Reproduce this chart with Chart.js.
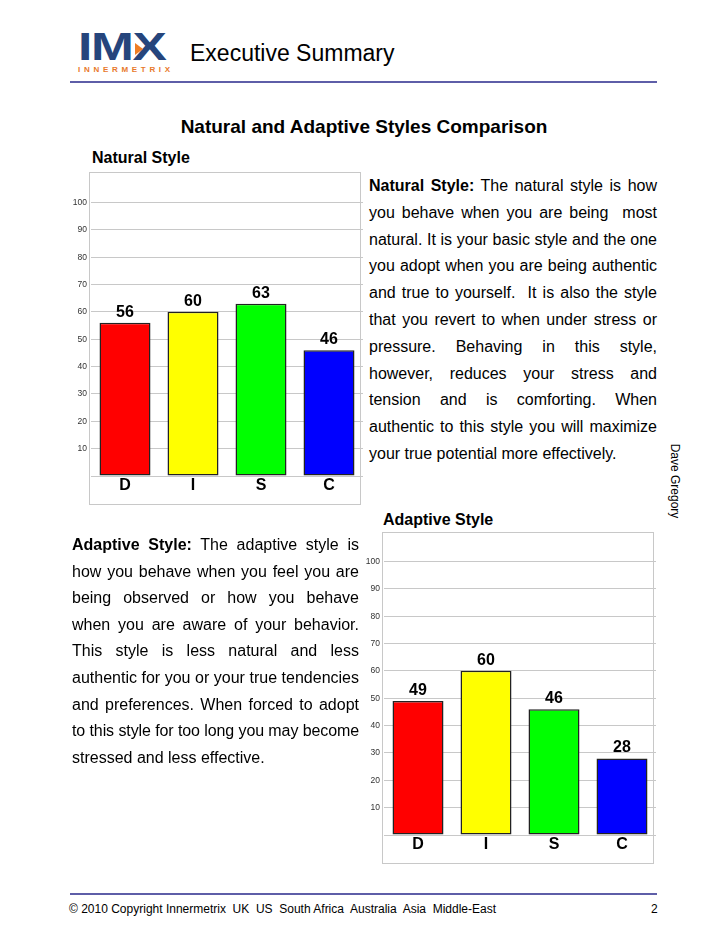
<!DOCTYPE html>
<html>
<head>
<meta charset="utf-8">
<title>Executive Summary</title>
<script src="https://cdn.jsdelivr.net/npm/chart.js@4.4.1/dist/chart.umd.min.js"></script>
<style>
  html, body { margin: 0; padding: 0; background: #fff; }
  body { width: 728px; height: 943px; position: relative; overflow: hidden;
         font-family: "Liberation Sans", Arial, sans-serif; color: #000; }
  .abs { position: absolute; }
  .frame { position: absolute; border: 1px solid #c8c8c8; background: #fff; box-sizing: border-box; }
  .rule { position: absolute; height: 2px; background: #5e5ea8; }
  .heading { position: absolute; font-weight: bold; font-size: 16px; line-height: 16px; white-space: nowrap; }
  .para { position: absolute; font-size: 16px; }
  .ln { white-space: nowrap; text-align: justify; text-align-last: justify; }
  .ln.last { text-align-last: left; }
  canvas { position: absolute; }
</style>
</head>
<body>

<!-- logo + cabecera -->
<div class="abs" style="left:78px;top:27px;font-weight:bold;font-size:39px;line-height:39px;color:#26457c;transform:scaleX(1.32);transform-origin:left top;letter-spacing:-1px;">IMX</div>
<div class="abs" style="left:135px;top:43px;width:0;height:0;border-left:8px solid #ef7d22;border-top:6px solid transparent;border-bottom:6px solid transparent;"></div>
<div class="abs" style="left:78px;top:66px;font-weight:bold;font-size:8px;line-height:8px;color:#e8792b;letter-spacing:3.7px;">INNERMETRIX</div>
<div class="abs" style="left:190px;top:42px;font-size:23px;line-height:23px;">Executive Summary</div>
<div class="rule" style="left:70px;top:81px;width:587px;"></div>

<div class="abs" style="left:0;width:728px;top:117px;text-align:center;font-weight:bold;font-size:19px;line-height:19px;">Natural and Adaptive Styles Comparison</div>

<!-- gráfico natural -->
<div class="heading" style="left:92px;top:150px;">Natural Style</div>
<div class="frame" style="left:89px;top:172px;width:272px;height:333px;"></div>
<canvas id="naturalChart" width="312" height="334" style="left:55px;top:166px;width:312px;height:334px;"></canvas>

<div class="para" id="naturalText" style="left:369px;top:173px;width:288px;line-height:26.8px;">
  <div class="ln"><b>Natural Style:</b> The natural style is how</div>
  <div class="ln">you behave when you are being &nbsp;most</div>
  <div class="ln">natural. It is your basic style and the one</div>
  <div class="ln">you adopt when you are being authentic</div>
  <div class="ln">and true to yourself. &nbsp;It is also the style</div>
  <div class="ln">that you revert to when under stress or</div>
  <div class="ln">pressure. Behaving in this style,</div>
  <div class="ln">however, reduces your stress and</div>
  <div class="ln">tension and is comforting. When</div>
  <div class="ln">authentic to this style you will maximize</div>
  <div class="ln last">your true potential more effectively.</div>
</div>

<!-- gráfico adaptativo -->
<div class="heading" style="left:383px;top:512px;">Adaptive Style</div>
<div class="frame" style="left:382px;top:532px;width:272px;height:332px;"></div>
<canvas id="adaptiveChart" width="312" height="334" style="left:348px;top:525px;width:312px;height:334px;"></canvas>

<div class="para" id="adaptiveText" style="left:72px;top:532px;width:287px;line-height:26.6px;">
  <div class="ln"><b>Adaptive Style:</b> The adaptive style is</div>
  <div class="ln">how you behave when you feel you are</div>
  <div class="ln">being observed or how you behave</div>
  <div class="ln">when you are aware of your behavior.</div>
  <div class="ln">This style is less natural and less</div>
  <div class="ln">authentic for you or your true tendencies</div>
  <div class="ln">and preferences. When forced to adopt</div>
  <div class="ln">to this style for too long you may become</div>
  <div class="ln last">stressed and less effective.</div>
</div>

<!-- nota lateral -->
<div class="abs" style="left:675px;top:481px;font-size:12px;line-height:12px;white-space:nowrap;transform:translate(-50%,-50%) rotate(90deg);">Dave Gregory</div>

<!-- pie de página -->
<div class="rule" style="left:70px;top:893px;width:587px;"></div>
<div class="abs" style="left:69px;top:903px;font-size:12px;line-height:12px;white-space:pre;">© 2010 Copyright Innermetrix  UK  US  South Africa  Australia  Asia  Middle-East</div>
<div class="abs" style="left:651px;top:903px;font-size:12px;line-height:12px;">2</div>

<script>
// datos del gráfico
const categorias = ['D', 'I', 'S', 'C'];
const valoresNatural = [56, 60, 63, 46];
const valoresAdaptativo = [49, 60, 46, 28];
const coloresBarras = ['#ff0000', '#ffff00', '#00ff00', '#0000ff'];
const escalaMin = 0;
const escalaMax = 110;   // la rejilla llega hasta 100
const pasoEscala = 10;

const fuente = 'Liberation Sans, Arial, sans-serif';

// etiquetas con el valor encima de cada barra
const etiquetasValor = {
    id: 'etiquetasValor',
    afterDatasetsDraw(chart) {
        const ctx = chart.ctx;
        const meta = chart.getDatasetMeta(0);
        const datos = chart.data.datasets[0].data;
        ctx.save();
        ctx.font = 'bold 16px ' + fuente;
        ctx.fillStyle = '#000';
        ctx.textAlign = 'center';
        ctx.textBaseline = 'alphabetic';
        meta.data.forEach((barra, i) => {
            ctx.fillText(datos[i], barra.x, barra.y - 6);
        });
        ctx.restore();
    }
};

function crearGrafico(idCanvas, valores) {
    const ctx = document.getElementById(idCanvas);
    return new Chart(ctx, {
        type: 'bar',
        data: {
            labels: categorias,
            datasets: [{
                data: valores,
                backgroundColor: coloresBarras,
                borderColor: '#222',
                borderWidth: 1.5,
                borderSkipped: false,
                barPercentage: 0.75,
                categoryPercentage: 1
            }]
        },
        options: {
            responsive: false,
            animation: false,
            devicePixelRatio: 1,
            layout: { padding: { top: 0, right: 4, left: 0, bottom: 0 } },
            plugins: {
                legend: { display: false },
                tooltip: { enabled: false }
            },
            scales: {
                x: {
                    grid: { display: false },
                    border: { display: false },
                    ticks: {
                        color: '#000',
                        padding: -8,
                        font: { family: fuente, size: 16, weight: 'bold' }
                    },
                    afterFit(escala) { escala.height = 24; }
                },
                y: {
                    min: escalaMin,
                    max: escalaMax,
                    border: { display: false },
                    grid: { color: '#c8c8c8', lineWidth: 1, drawTicks: false },
                    ticks: {
                        stepSize: pasoEscala,
                        color: '#333',
                        padding: 4,
                        font: { family: fuente, size: 8.5 },
                        callback: v => v === escalaMax ? null : (v === 0 ? '' : v)
                    },
                    afterFit(escala) { escala.width = 36; }
                }
            }
        },
        plugins: [etiquetasValor]
    });
}

crearGrafico('naturalChart', valoresNatural);
crearGrafico('adaptiveChart', valoresAdaptativo);

// comprimir las líneas que no caben en el ancho del párrafo
document.querySelectorAll('.para').forEach(p => {
    const ancho = p.clientWidth;
    p.querySelectorAll('.ln').forEach(ln => {
        let ls = 0;
        ln.style.display = 'inline-block';
        while (ln.scrollWidth > ancho && ls > -1.2) {
            ls -= 0.1;
            ln.style.letterSpacing = ls + 'px';
        }
        ln.style.display = 'block';
    });
});
</script>
</body>
</html>
